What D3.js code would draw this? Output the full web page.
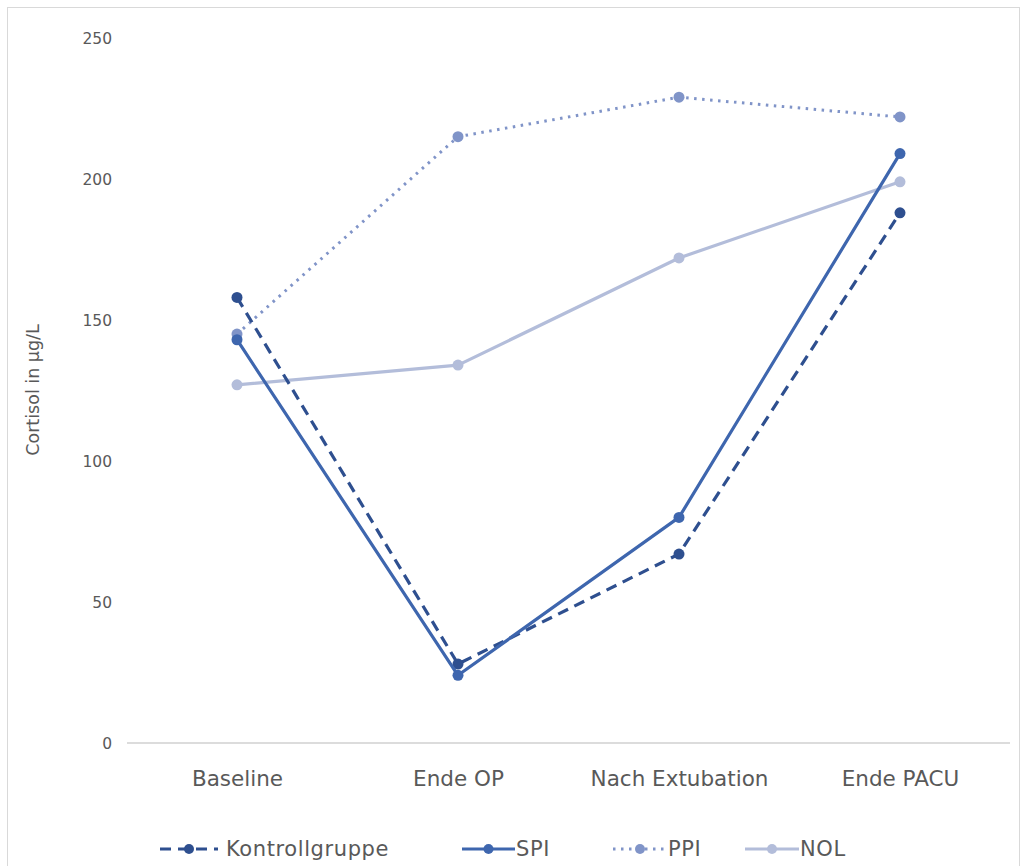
<!DOCTYPE html>
<html><head><meta charset="utf-8">
<script src="https://cdn.jsdelivr.net/npm/d3@7"></script>
<style>body{margin:0;background:#fff}svg{display:block}</style>
</head><body>
<svg id="c" width="1027" height="866"></svg>
<script>
const categories = ["Baseline", "Ende OP", "Nach Extubation", "Ende PACU"];
const kontrollgruppe = [158, 28, 67, 188];
const spi = [143, 24, 80, 209];
const ppi = [145, 215, 229, 222];
const nol = [127, 134, 172, 199];
const yTicks = [0, 50, 100, 150, 200, 250];
const seriesNames = ["Kontrollgruppe", "SPI", "PPI", "NOL"];

const styles = {
  "Kontrollgruppe": {color: "#2E4F8F", dash: "11,7", width: 3.2},
  "SPI": {color: "#3E66AE", dash: null, width: 3.2},
  "PPI": {color: "#8094C8", dash: "2.5,5.5", width: 3},
  "NOL": {color: "#B3BDDA", dash: null, width: 3.2}
};
const seriesData = [kontrollgruppe, spi, ppi, nol];

const svg = d3.select("#c");
const font = "'DejaVu Sans', sans-serif";
const textCol = "#595959";

// border
svg.append("rect").attr("x", 7.5).attr("y", 7.5).attr("width", 1012).attr("height", 870)
  .attr("fill", "none").attr("stroke", "#d9d9d9").attr("stroke-width", 1);

const x = d3.scalePoint().domain(categories).range([237, 900]);
const y = d3.scaleLinear().domain([0, 250]).range([743, 38]);

// x axis line
svg.append("line").attr("x1", 127).attr("x2", 1010).attr("y1", y(0)).attr("y2", y(0))
  .attr("stroke", "#d0d0d0").attr("stroke-width", 1.5);

// y tick labels
const yAxis = d3.axisLeft(y).tickValues(yTicks).tickSize(0).tickPadding(0);
const ya = svg.append("g").attr("transform", "translate(112,0)").call(yAxis);
ya.select(".domain").remove();
ya.selectAll("text").attr("font-family", font).attr("font-size", 15.5).attr("fill", textCol)
  .attr("dy", "0.35em");

// x labels
const xAxis = d3.axisBottom(x).tickSize(0).tickPadding(0);
const xa = svg.append("g").attr("transform", "translate(0,786)").call(xAxis);
xa.select(".domain").remove();
xa.selectAll("text").attr("font-family", font).attr("font-size", 21.5).attr("fill", textCol)
  .attr("dy", "0");

// y title
svg.append("text").attr("transform", "translate(39,390) rotate(-90)")
  .attr("text-anchor", "middle").attr("font-family", font).attr("font-size", 17.5)
  .attr("fill", textCol).text("Cortisol in µg/L");

const line = d3.line().x((d, i) => x(categories[i])).y(d => y(d));

// draw order: NOL, PPI, Kontroll, SPI
const order = [3, 2, 0, 1];
order.forEach(si => {
  const name = seriesNames[si], st = styles[name], vals = seriesData[si];
  const g = svg.append("g");
  g.append("path").datum(vals).attr("d", line).attr("fill", "none")
    .attr("stroke", st.color).attr("stroke-width", st.width)
    .attr("stroke-dasharray", st.dash).attr("stroke-linejoin", "round");
  g.selectAll("circle").data(vals).join("circle")
    .attr("cx", (d, i) => x(categories[i])).attr("cy", d => y(d)).attr("r", 5.5)
    .attr("fill", st.color);
});

// legend
const legendItems = [
  {name: "Kontrollgruppe", x0: 160, x1: 218, tx: 226},
  {name: "SPI", x0: 462, x1: 515, tx: 516},
  {name: "PPI", x0: 613, x1: 667, tx: 668},
  {name: "NOL", x0: 745, x1: 799, tx: 800}
];
const ly = 849;
legendItems.forEach(it => {
  const st = styles[it.name];
  svg.append("line").attr("x1", it.x0).attr("x2", it.x1).attr("y1", ly).attr("y2", ly)
    .attr("stroke", st.color).attr("stroke-width", st.width).attr("stroke-dasharray", st.dash);
  svg.append("circle").attr("cx", (it.x0 + it.x1) / 2).attr("cy", ly).attr("r", 5).attr("fill", st.color);
  svg.append("text").attr("x", it.tx).attr("y", ly).attr("dy", "0.35em")
    .attr("font-family", font).attr("font-size", 21).attr("letter-spacing", 0.6)
    .attr("fill", textCol).text(it.name);
});
</script>
</body></html>
